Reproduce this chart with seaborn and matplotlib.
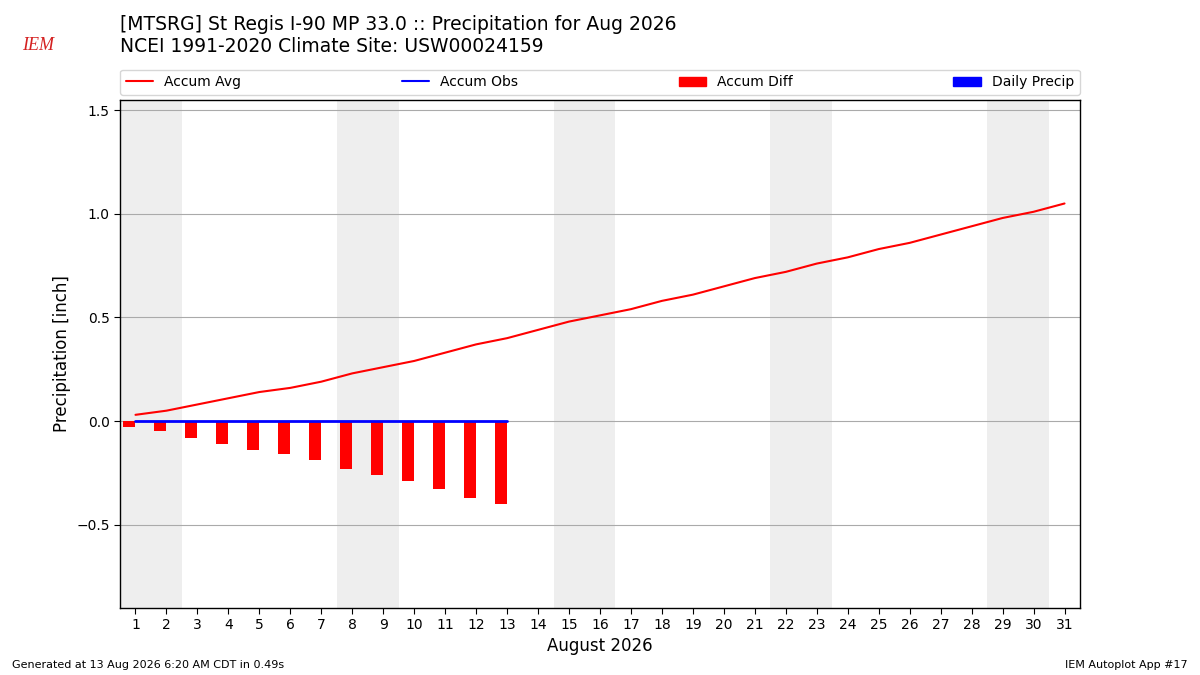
import matplotlib
matplotlib.use("Agg")
import matplotlib.pyplot as plt
import seaborn as sns
import numpy as np
import pandas as pd
from matplotlib.lines import Line2D
from matplotlib.patches import Patch

days = list(range(1, 32))
accum_avg = [0.03, 0.05, 0.08, 0.11, 0.14, 0.16, 0.19, 0.23, 0.26, 0.29, 0.33, 0.37, 0.40,
             0.44, 0.48, 0.51, 0.54, 0.58, 0.61, 0.65, 0.69, 0.72, 0.76, 0.79, 0.83, 0.86,
             0.90, 0.94, 0.98, 1.01, 1.05]
obs_days = list(range(1, 14))
accum_obs = [0.0] * 13
daily_precip = [0.0] * 13
accum_diff = [-0.03, -0.05, -0.08, -0.11, -0.14, -0.16, -0.19, -0.23, -0.26, -0.29, -0.33, -0.37, -0.40]
weekend_starts = [1, 8, 15, 22, 29]

title = "[MTSRG] St Regis I-90 MP 33.0 :: Precipitation for Aug 2026\nNCEI 1991-2020 Climate Site: USW00024159"

sns.set_style("white", rc={"text.color": "black", "axes.labelcolor": "black",
                           "xtick.color": "black", "ytick.color": "black",
                           "axes.edgecolor": "black", "patch.edgecolor": "none"})
plt.rcParams['font.family'] = ['DejaVu Sans']

fig = plt.figure(figsize=(12, 6.75), dpi=100)
ax = fig.add_axes([0.1, 0.1, 0.8, 0.752])

for d in weekend_starts:
    ax.axvspan(d - 0.5, d + 1.5, color="#eeeeee", zorder=0, lw=0)

avg_df = pd.DataFrame({"day": days, "val": accum_avg})
obs_df = pd.DataFrame({"day": obs_days, "val": accum_obs})

ax.bar(np.array(obs_days) - 0.4, accum_diff, width=0.4, align="edge", color="red",
       lw=0, zorder=2)
ax.bar(np.array(obs_days), daily_precip, width=0.4, align="edge", color="blue",
       lw=0, zorder=2)
sns.lineplot(data=avg_df, x="day", y="val", color="red", lw=1.5, ax=ax, zorder=3)
sns.lineplot(data=obs_df, x="day", y="val", color="blue", lw=2, ax=ax, zorder=3)

ax.set_xlim(0.5, 31.5)
ax.set_ylim(-0.9, 1.55)
ax.set_xticks(days)
ax.set_xticklabels([str(d) for d in days])
ax.set_yticks([-0.5, 0.0, 0.5, 1.0, 1.5])
ax.yaxis.grid(True, color="#aaaaaa", lw=0.8, zorder=1)
ax.set_axisbelow(True)
ax.tick_params(axis="both", which="both", length=4, direction="out", labelsize=10,
               bottom=True, left=True, color="black")
for s in ax.spines.values():
    s.set_color("black")
    s.set_linewidth(1.0)
ax.set_xlabel("August 2026", fontsize=12)
ax.set_ylabel("Precipitation [inch]", fontsize=12)

handles = [Line2D([], [], color="red", lw=1.5), Line2D([], [], color="blue", lw=1.5),
           Patch(color="red"), Patch(color="blue")]
labels = ["Accum Avg", "Accum Obs", "Accum Diff", "Daily Precip"]
ax.legend(handles, labels, loc="lower left", bbox_to_anchor=(0, 1.01, 1, 0.05),
          ncol=4, mode="expand", borderaxespad=0, fontsize=10, frameon=True)

fig.text(0.1, 0.978, title, fontsize=13.5, va="top", ha="left")
fig.text(0.018, 0.933, "IEM", fontsize=13, color="#d42020", family="Liberation Serif",
         style="italic", va="center", ha="left")
fig.text(0.01, 0.008, "Generated at 13 Aug 2026 6:20 AM CDT in 0.49s", fontsize=8, va="bottom")
fig.text(0.99, 0.008, "IEM Autoplot App #17", fontsize=8, va="bottom", ha="right")

fig.savefig("out.png", dpi=100)
